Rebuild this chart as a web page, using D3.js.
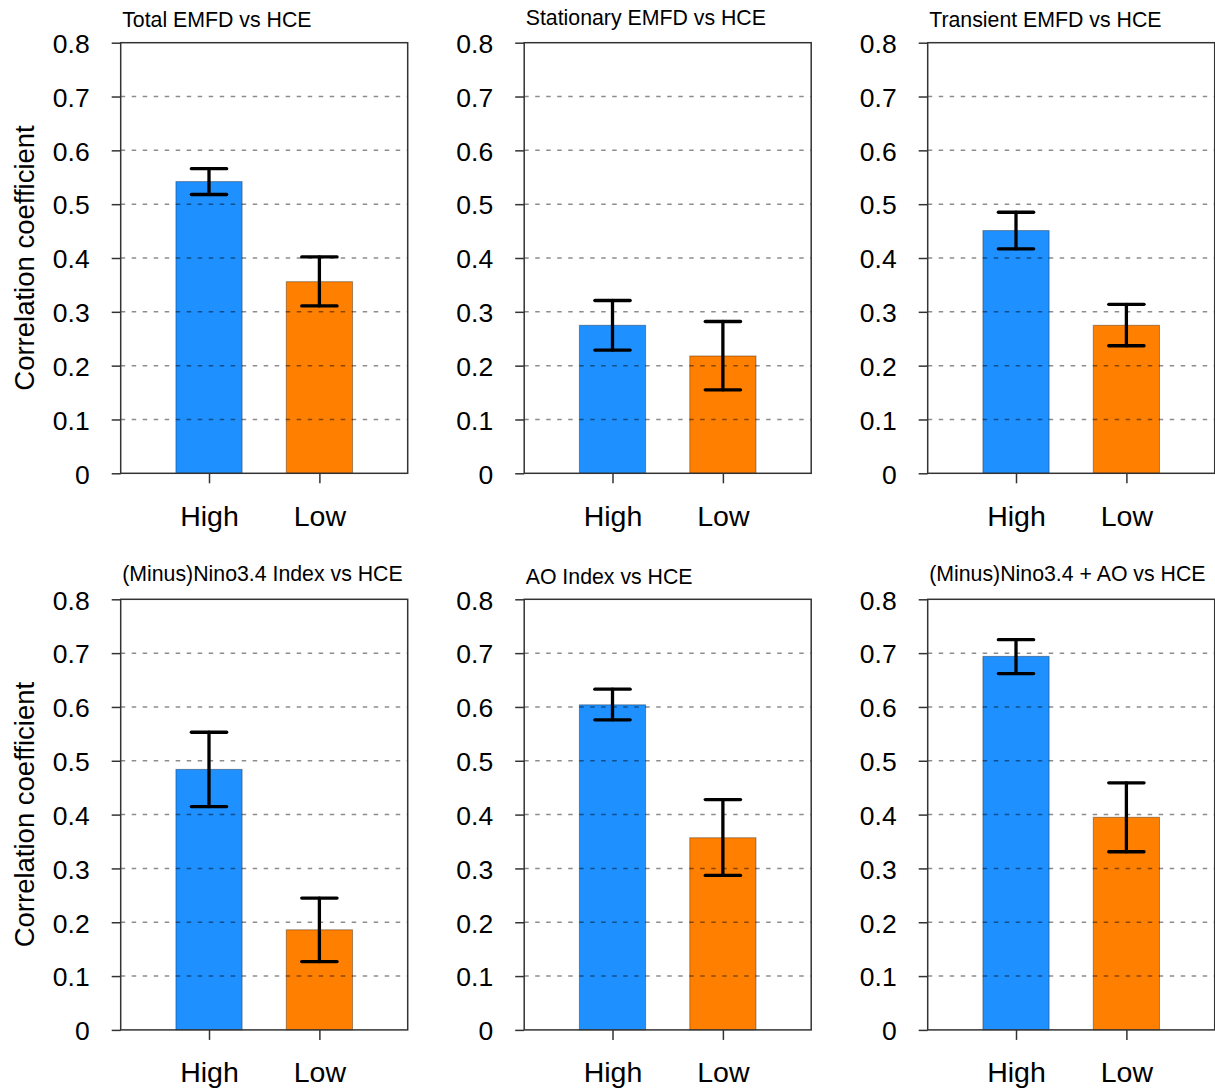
<!DOCTYPE html>
<html>
<head>
<meta charset="utf-8">
<script src="https://cdn.jsdelivr.net/npm/d3@7"></script>
<style>
  html, body { margin: 0; padding: 0; background: #fff; }
  svg { display: block; font-family: "Liberation Sans", Arial, Helvetica, sans-serif; }
</style>
</head>
<body>
<svg id="chart" width="1215" height="1090"></svg>
<script>
// ---- data ----
const titles = [
  "Total EMFD vs HCE",
  "Stationary EMFD vs HCE",
  "Transient EMFD vs HCE",
  "(Minus)Nino3.4 Index vs HCE",
  "AO Index vs HCE",
  "(Minus)Nino3.4 + AO vs HCE"
];
const categories = ["High", "Low"];
const yTicks = [0, 0.1, 0.2, 0.3, 0.4, 0.5, 0.6, 0.7, 0.8];
const yTickLabels = ["0", "0.1", "0.2", "0.3", "0.4", "0.5", "0.6", "0.7", "0.8"];
const yLabel = "Correlation coefficient";
const highValues = [0.542, 0.275, 0.451, 0.484, 0.604, 0.694];
const lowValues  = [0.356, 0.218, 0.275, 0.186, 0.357, 0.395];
const highErrLower = [0.518, 0.229, 0.417, 0.415, 0.576, 0.662];
const highErrUpper = [0.566, 0.321, 0.485, 0.553, 0.633, 0.725];
const lowErrLower  = [0.311, 0.155, 0.237, 0.127, 0.287, 0.331];
const lowErrUpper  = [0.402, 0.282, 0.314, 0.245, 0.428, 0.459];
const barColors = ["#1E90FF", "#FF7F00"];

// ---- layout ----
const svg = d3.select("#chart");
const plotW = 287, plotH = 430.6;
const colLefts = [120.7, 524.2, 927.7];
const rowTops = [42.7, 599.3];

titles.forEach((title, i) => {
  const col = i % 3, row = Math.floor(i / 3);
  const left = colLefts[col], top = rowTops[row];
  const g = svg.append("g");

  const x = d3.scaleLinear().domain([0.2, 2.8]).range([left, left + plotW]);
  const y = d3.scaleLinear().domain([0, 0.8]).range([top + plotH, top]);

  const vals = [highValues[i], lowValues[i]];
  const lo = [highErrLower[i], lowErrLower[i]];
  const hi = [highErrUpper[i], lowErrUpper[i]];
  const barW = 0.6, capW = 0.32;

  // bars
  g.selectAll("rect.bar").data(vals).enter().append("rect")
    .attr("class", "bar")
    .attr("x", (d, k) => x(k + 1 - barW / 2))
    .attr("width", (d, k) => x(k + 1 + barW / 2) - x(k + 1 - barW / 2))
    .attr("y", d => y(d))
    .attr("height", d => y(0) - y(d))
    .attr("fill", (d, k) => barColors[k])
    .attr("stroke", "rgba(0,0,0,0.35)")
    .attr("stroke-width", 1);

  // dashed grid lines (drawn over bars)
  g.selectAll("line.grid").data(yTicks.filter(t => t > 0 && t < 0.8)).enter().append("line")
    .attr("x1", left).attr("x2", left + plotW)
    .attr("y1", d => y(d)).attr("y2", d => y(d))
    .attr("stroke", "rgba(0,0,0,0.45)")
    .attr("stroke-width", 1.5)
    .attr("stroke-dasharray", "4.5,6.5");

  // y axis ticks outward + labels
  const yAxis = d3.axisLeft(y).tickValues(yTicks)
    .tickFormat((d, k) => yTickLabels[k]).tickSizeInner(9).tickSizeOuter(0).tickPadding(22);
  const ya = g.append("g").attr("transform", `translate(${left},0)`).call(yAxis);
  ya.select(".domain").remove();
  ya.selectAll("line").attr("stroke", "#333").attr("stroke-width", 1.5);
  ya.selectAll("text").attr("font-size", 26.5).attr("fill", "#000")
    .attr("font-family", '"Liberation Sans", Arial, sans-serif').attr("dy", "0.37em");

  // x axis ticks + labels
  const xAxis = d3.axisBottom(x).tickValues([1, 2])
    .tickFormat((d, k) => categories[k]).tickSizeInner(10).tickSizeOuter(0).tickPadding(22);
  const xa = g.append("g").attr("transform", `translate(0,${top + plotH})`).call(xAxis);
  xa.select(".domain").remove();
  xa.selectAll("line").attr("stroke", "#333").attr("stroke-width", 1.5);
  xa.selectAll("text").attr("font-size", 28.5).attr("fill", "#000")
    .attr("font-family", '"Liberation Sans", Arial, sans-serif').attr("dy", "0.71em");

  // frame
  g.append("rect")
    .attr("x", left).attr("y", top).attr("width", plotW).attr("height", plotH)
    .attr("fill", "none").attr("stroke", "#333").attr("stroke-width", 1.5);

  // error bars
  const eb = g.selectAll("g.err").data(vals).enter().append("g").attr("class", "err");
  eb.append("line")
    .attr("x1", (d, k) => x(k + 1)).attr("x2", (d, k) => x(k + 1))
    .attr("y1", (d, k) => y(lo[k])).attr("y2", (d, k) => y(hi[k]));
  eb.append("line")
    .attr("x1", (d, k) => x(k + 1 - capW / 2)).attr("x2", (d, k) => x(k + 1 + capW / 2))
    .attr("y1", (d, k) => y(hi[k])).attr("y2", (d, k) => y(hi[k]));
  eb.append("line")
    .attr("x1", (d, k) => x(k + 1 - capW / 2)).attr("x2", (d, k) => x(k + 1 + capW / 2))
    .attr("y1", (d, k) => y(lo[k])).attr("y2", (d, k) => y(lo[k]));
  eb.selectAll("line").attr("stroke", "#000").attr("stroke-width", 3.3).attr("stroke-linecap", "round");

  // title
  const hasDesc = /[ypgqj()]/.test(title);
  g.append("text")
    .attr("x", left + 1.5)
    .attr("y", top - 15.5 - (hasDesc ? 2.5 : 0))
    .attr("font-size", 21.3)
    .attr("fill", "#000")
    .text(title);

  // y label (left column only)
  if (col === 0) {
    g.append("text")
      .attr("transform", `translate(34,${top + plotH / 2}) rotate(-90)`)
      .attr("text-anchor", "middle")
      .attr("font-size", 27.5)
      .attr("fill", "#000")
      .text(yLabel);
  }
});
</script>
</body>
</html>
